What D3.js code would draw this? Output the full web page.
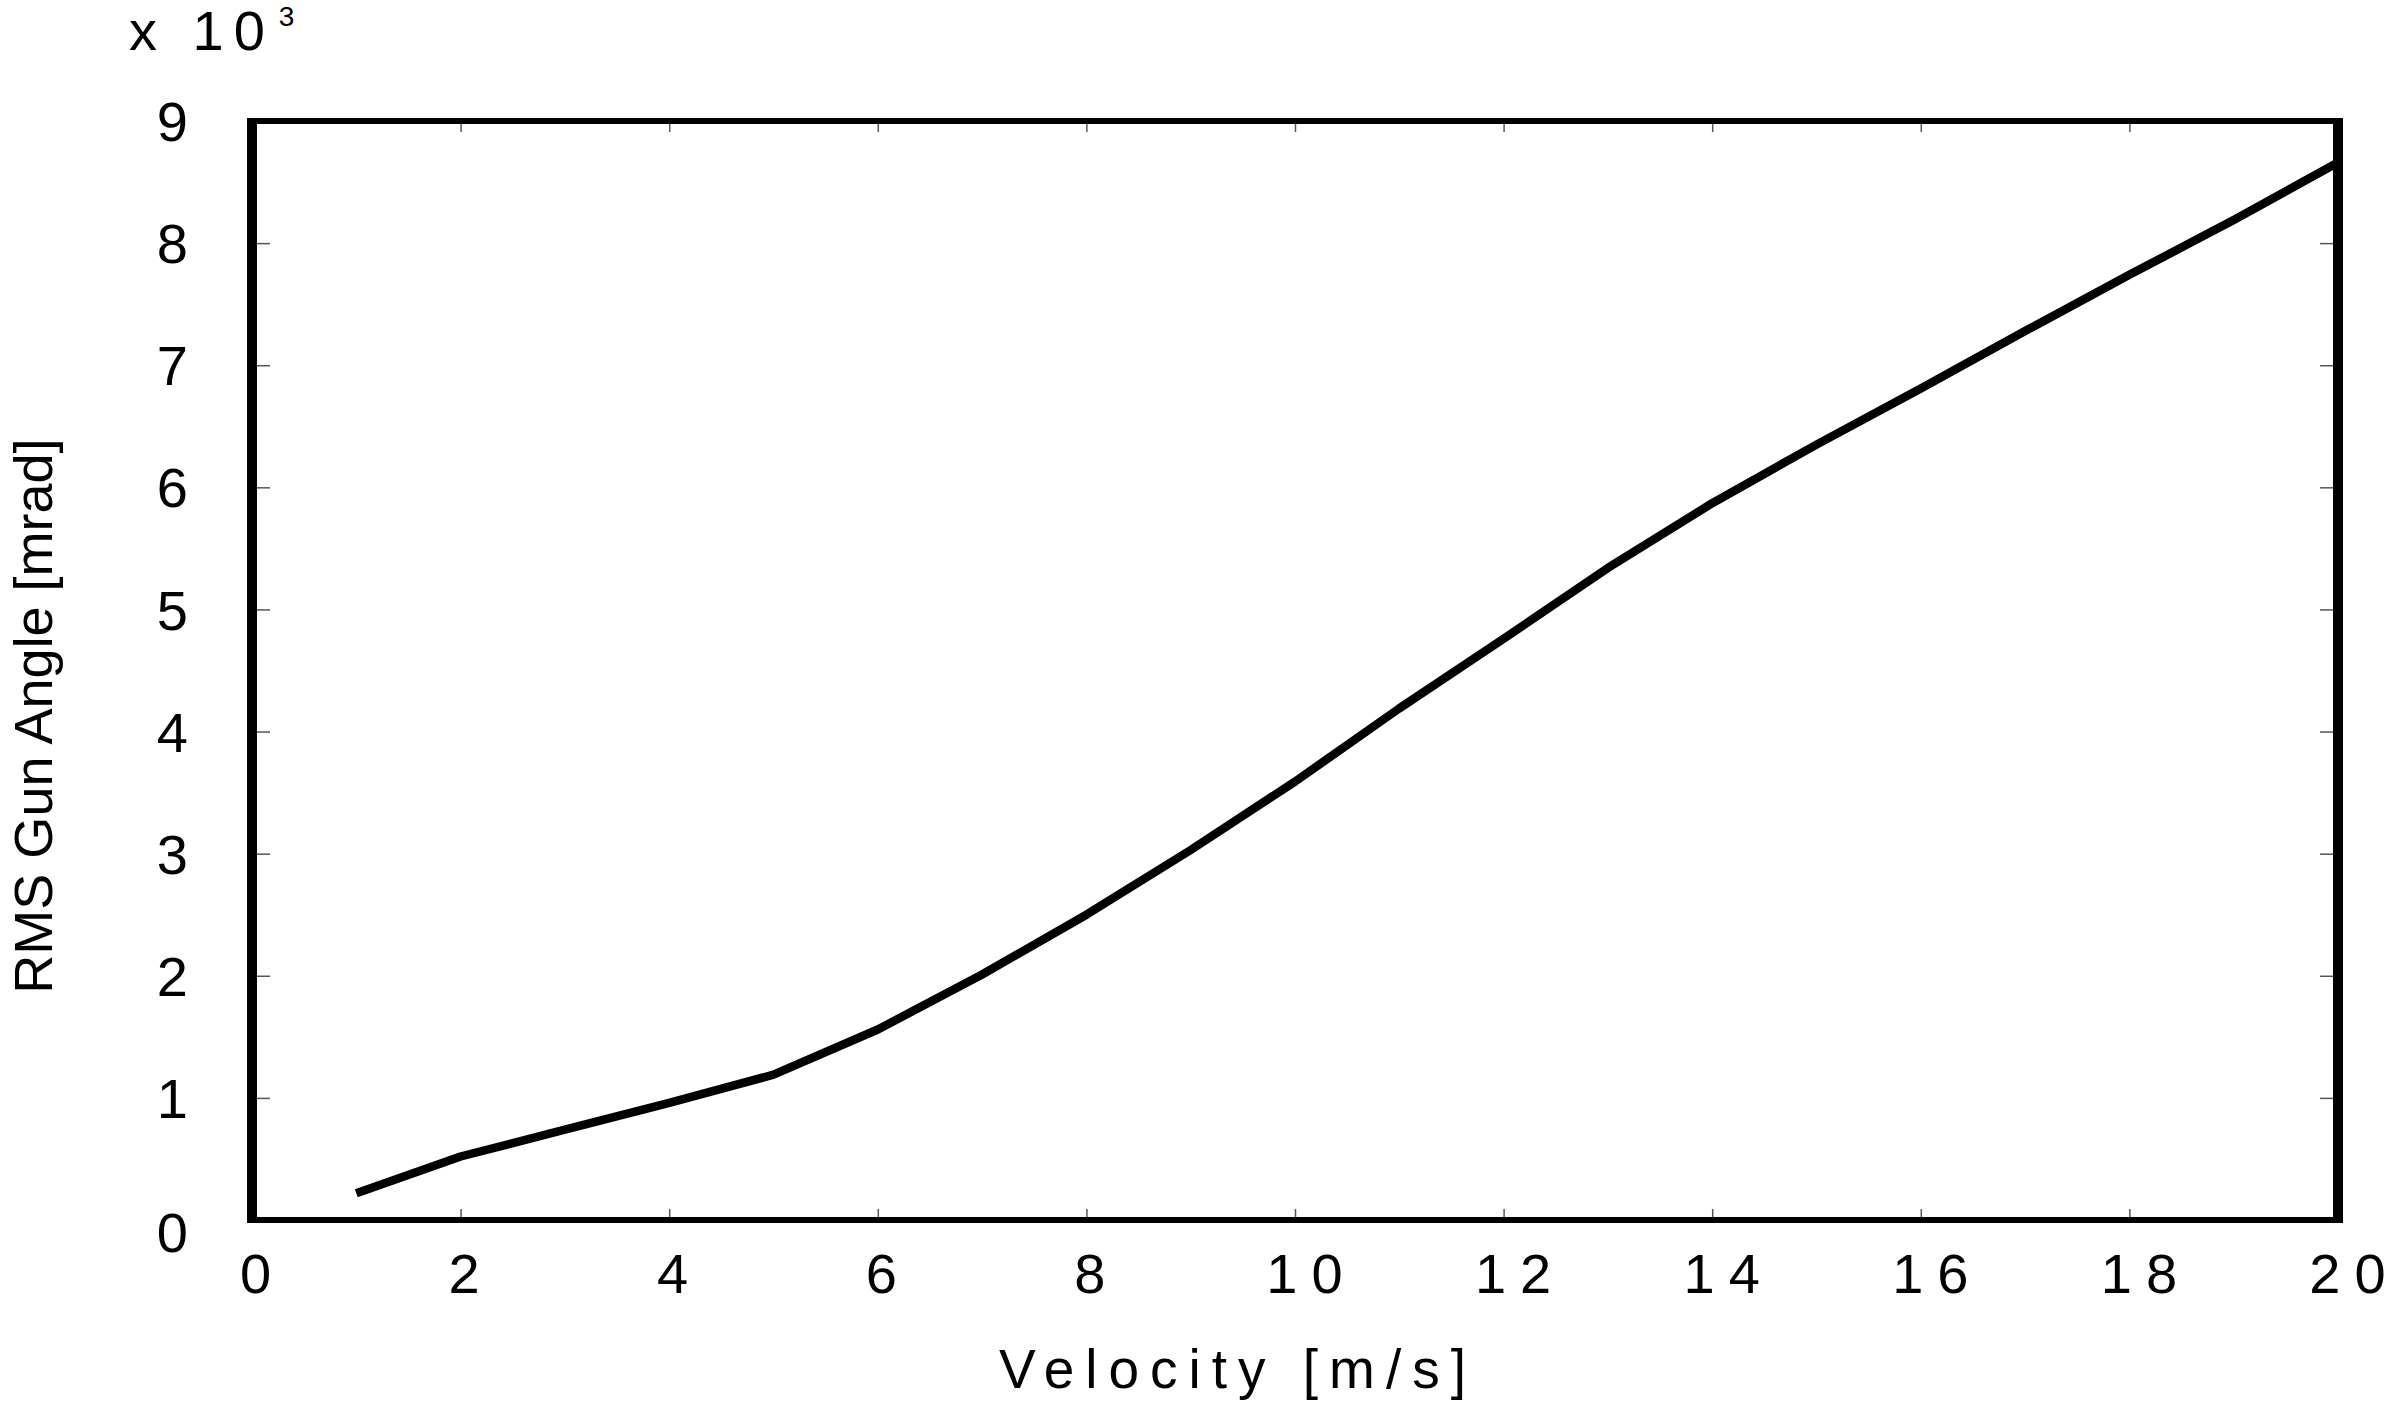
<!DOCTYPE html>
<html>
<head>
<meta charset="utf-8">
<script src="https://cdn.jsdelivr.net/npm/d3@7"></script>
<style>
  body { margin: 0; background: #fff; }
  text { font-family: "Liberation Sans", Arial, sans-serif; fill: #000; }
</style>
</head>
<body>
<div id="chart"></div>
<script>
// data (y in units of 10^3 mrad)
var velocity = [1, 2, 3, 4, 5, 6, 7, 8, 9, 10, 11, 12, 13, 14, 15, 16, 17, 18, 19, 20];
var gunAngle = [0.22, 0.52, 0.74, 0.96, 1.19, 1.56, 2.01, 2.50, 3.03, 3.59,
                4.19, 4.76, 5.34, 5.87, 6.35, 6.81, 7.28, 7.74, 8.19, 8.66];
var xTicks = [0, 2, 4, 6, 8, 10, 12, 14, 16, 18, 20];
var yTicks = [0, 1, 2, 3, 4, 5, 6, 7, 8, 9];

//Dimensions and margins
var margin = { top: 121, right: 62, bottom: 181, left: 252 },
    width = 2400 - margin.left - margin.right,
    height = 1401 - margin.top - margin.bottom;

var svg = d3
  .select("#chart")
  .append("svg")
  .attr("width", 2400)
  .attr("height", 1401);

var canvas = svg
  .append("g")
  .attr("transform", "translate(" + margin.left + "," + margin.top + ")");

var x = d3.scaleLinear().domain([0, 20]).range([0, width]);
var y = d3.scaleLinear().domain([0, 9]).range([height, 0]);

// X axis (bottom, ticks inward)
var xAxis = canvas
  .append("g")
  .attr("transform", "translate(0," + height + ")")
  .call(d3.axisBottom(x).tickValues(xTicks).tickSize(-11));
xAxis.selectAll("text")
  .attr("y", 73)
  .attr("dy", 0)
  .attr("dx", function(d) { return d >= 10 ? 16 : 10; })
  .style("letter-spacing", "14px")
  .style("font-size", "56px");

// top ticks
canvas
  .append("g")
  .call(d3.axisTop(x).tickValues(xTicks).tickSize(-11).tickFormat(""));

// Y axis (left, ticks inward)
var yAxis = canvas
  .append("g")
  .call(d3.axisLeft(y).tickValues(yTicks).tickSize(-18));
yAxis.selectAll("text")
  .attr("x", -64)
  .attr("dy", function(d) { return d === 0 ? "0.56em" : "0.35em"; })
  .style("font-size", "56px");

// right ticks
canvas
  .append("g")
  .attr("transform", "translate(" + width + ",0)")
  .call(d3.axisRight(y).tickValues(yTicks).tickSize(-18).tickFormat(""));

canvas.selectAll(".domain").remove();
canvas.selectAll(".tick line")
  .attr("stroke", "#555")
  .attr("stroke-width", 1.5);

// frame
canvas.append("line")
  .attr("x1", -5).attr("x2", width + 5).attr("y1", 0).attr("y2", 0)
  .attr("stroke", "#000").attr("stroke-width", 6);
canvas.append("line")
  .attr("x1", -5).attr("x2", width + 5).attr("y1", height).attr("y2", height)
  .attr("stroke", "#000").attr("stroke-width", 6);
canvas.append("line")
  .attr("x1", 0).attr("x2", 0).attr("y1", -3).attr("y2", height + 3)
  .attr("stroke", "#000").attr("stroke-width", 10);
canvas.append("line")
  .attr("x1", width).attr("x2", width).attr("y1", -3).attr("y2", height + 3)
  .attr("stroke", "#000").attr("stroke-width", 10);

// curve
var points = velocity.map(function(v, i) { return { v: v, a: gunAngle[i] }; });
var line = d3.line()
  .x(function(d) { return x(d.v); })
  .y(function(d) { return y(d.a); });

canvas.append("path")
  .datum(points)
  .attr("d", line)
  .attr("fill", "none")
  .attr("stroke", "#000")
  .attr("stroke-width", 8.5)
  .attr("stroke-linejoin", "round")
  .attr("stroke-linecap", "butt");

// multiplier label
var mult = svg.append("text")
  .attr("x", 129)
  .attr("y", 50)
  .style("font-size", "56px")
  .style("letter-spacing", "10px")
  .text("x 10");
mult.append("tspan")
  .attr("dx", 4)
  .attr("dy", -24)
  .style("font-size", "28px")
  .text("3");

// axis titles
svg.append("text")
  .attr("x", 1238)
  .attr("y", 1388)
  .attr("text-anchor", "middle")
  .style("font-size", "55px")
  .style("letter-spacing", "11px")
  .text("Velocity [m/s]");

svg.append("text")
  .attr("transform", "translate(52,716) rotate(-90)")
  .attr("text-anchor", "middle")
  .style("font-size", "54px")
  .text("RMS Gun Angle [mrad]");
</script>
</body>
</html>
